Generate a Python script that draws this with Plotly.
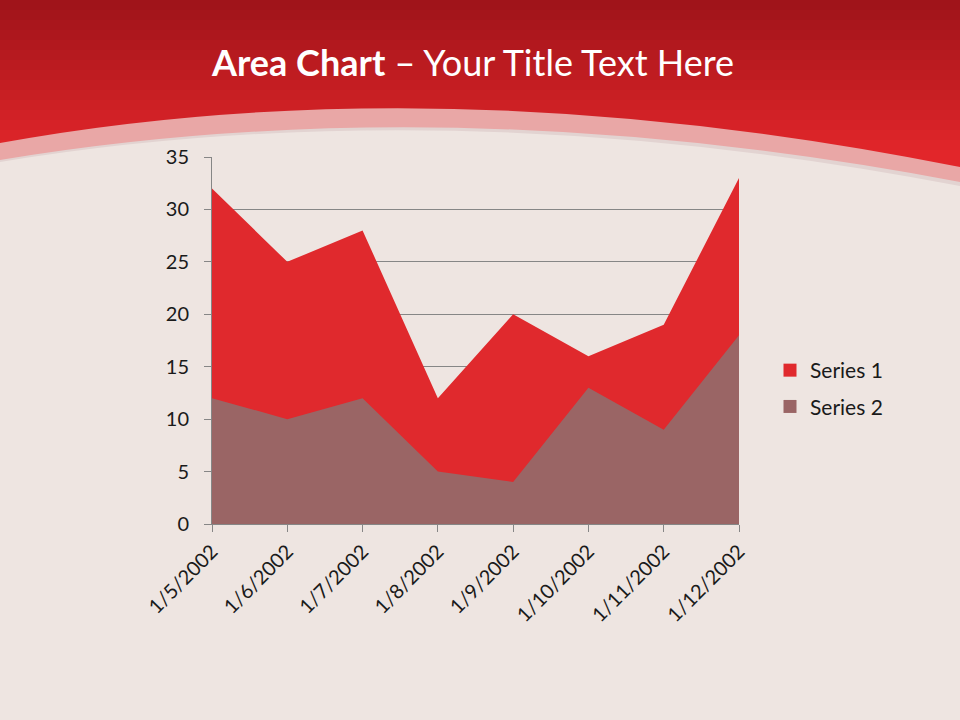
import plotly.graph_objects as go

categories = ["1/5/2002", "1/6/2002", "1/7/2002", "1/8/2002",
              "1/9/2002", "1/10/2002", "1/11/2002", "1/12/2002"]
series1 = [32, 25, 28, 12, 20, 16, 19, 33]
series2 = [12, 10, 12, 5, 4, 13, 9, 18]
series_names = ["Series 1", "Series 2"]

W, H = 960, 720
FONT = "Lato"
PAPER = "#eee5e1"
RED1 = "#e0292d"
RED2 = "#9a6565"


def px(x, y):
    return f"{x / W:.5f},{1 - y / H:.5f}"


shapes = []
# red header gradient stripes
top = (160, 20, 26)
bot = (226, 38, 42)
n = 20
hgt = 200
for i in range(n):
    t = i / (n - 1)
    c = tuple(int(top[k] + (bot[k] - top[k]) * min(1, t * 1.3)) for k in range(3))
    y0 = hgt * i / n
    y1 = hgt * (i + 1) / n + 1
    shapes.append(dict(type="rect", xref="paper", yref="paper",
                       x0=0, x1=1, y0=1 - y1 / H, y1=1 - y0 / H,
                       fillcolor=f"rgb{c}", line_width=0, layer="below"))
# pink band
shapes.append(dict(type="path", xref="paper", yref="paper", layer="below",
                   path=f"M {px(0,143)} Q {px(440,63)} {px(960,167)} L {px(960,230)} L {px(0,230)} Z",
                   fillcolor="#e9a7a6", line_width=0))
# grayish shadow below band
shapes.append(dict(type="path", xref="paper", yref="paper", layer="below",
                   path=f"M {px(0,160)} Q {px(450,85)} {px(960,182)} L {px(960,200)} Q {px(600,110)} {px(0,175)} Z",
                   fillcolor="#e2d3d1", line_width=0))
# paper area
shapes.append(dict(type="path", xref="paper", yref="paper", layer="below",
                   path=f"M {px(0,162)} Q {px(450,88)} {px(960,186)} L {px(960,720)} L {px(0,720)} Z",
                   fillcolor=PAPER, line_width=0))

fig = go.Figure()
fig.add_trace(go.Scatter(x=categories, y=series1, name=series_names[0], mode="none",
                         fill="tozeroy", fillcolor=RED1, showlegend=False))
fig.add_trace(go.Scatter(x=categories, y=series2, name=series_names[1], mode="none",
                         fill="tozeroy", fillcolor=RED2, showlegend=False))
# legend entries (square swatches)
for nm, col, grp in [(series_names[0], RED1, "a"), (series_names[1], RED2, "b")]:
    fig.add_trace(go.Scatter(x=[None], y=[None], name=nm, mode="markers",
                             marker=dict(symbol="square", size=13, color=col),
                             legendgroup=grp, showlegend=True))

fig.update_layout(
    width=W, height=H,
    margin=dict(l=0, r=0, t=0, b=0, autoexpand=False),
    paper_bgcolor=PAPER, plot_bgcolor="rgba(0,0,0,0)",
    shapes=shapes,
    font=dict(family=FONT, size=20, color="#1a1a1a"),
    showlegend=True,
    legend=dict(x=770 / W, y=1 - 350 / H, xanchor="left", yanchor="top",
                bgcolor="rgba(0,0,0,0)", font=dict(size=21, color="#1a1a1a"),
                tracegroupgap=6, traceorder="grouped", itemwidth=30),
    xaxis=dict(domain=[212 / W, 739 / W], type="category", range=[0, 7],
               automargin=False,
               showgrid=False, showline=True, linecolor="#868686", linewidth=1,
               ticks="outside", ticklen=7, tickcolor="#868686", tickangle=-45,
               tickfont=dict(size=20, color="#1a1a1a"), zeroline=False),
    yaxis=dict(domain=[1 - 524 / H, 1 - 157 / H], range=[0, 35], dtick=5,
               automargin=False,
               showgrid=True, gridcolor="#868686", gridwidth=1,
               showline=True, linecolor="#868686", linewidth=1,
               ticks="outside", ticklen=7, tickcolor="#868686",
               ticklabelstandoff=11,
               tickfont=dict(size=20, color="#1a1a1a"), zeroline=False),
    annotations=[dict(text="<b>Area Chart</b> – Your Title Text Here",
                      xref="paper", yref="paper", x=472 / W, y=1 - 62 / H,
                      xanchor="center", yanchor="middle", showarrow=False,
                      font=dict(family=FONT, size=36, color="white"))],
)

fig.write_html("out.html", config={"displayModeBar": False},
               post_script="document.body.style.margin='0';document.body.style.background='" + PAPER + "';")
